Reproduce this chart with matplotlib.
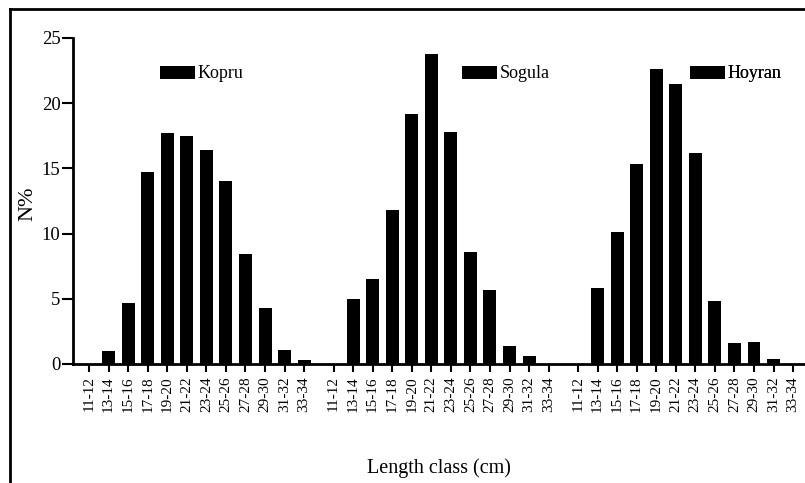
import numpy as np
import matplotlib
matplotlib.use("Agg")
import matplotlib.pyplot as plt
from matplotlib.lines import Line2D

plt.rcParams['font.family'] = ['Liberation Serif', 'DejaVu Serif']

classes = ['11-12', '13-14', '15-16', '17-18', '19-20', '21-22',
           '23-24', '25-26', '27-28', '29-30', '31-32', '33-34']
kopru = [0, 1.0, 4.65, 14.75, 17.75, 17.45, 16.4, 14.0, 8.45, 4.3, 1.05, 0.3]
sogula = [0, 4.95, 6.55, 11.8, 19.2, 23.75, 17.8, 8.55, 5.7, 1.35, 0.6, 0]
hoyran = [0, 5.85, 10.1, 15.3, 22.65, 21.45, 16.15, 4.85, 1.6, 1.7, 0.4, 0]
sites = ['Kopru', 'Sogula', 'Hoyran']
group_offset = 12.5

fig = plt.figure(figsize=(8.05, 4.83), dpi=100)
ax = fig.add_axes([0.0907, 0.2464, 0.9093, 0.675])

idx = np.arange(len(classes))
bars = []
for g, vals in enumerate([kopru, sogula, hoyran]):
    b = ax.bar(idx + g * group_offset, vals, width=0.66, color='black')
    bars.append(b)

xt = np.concatenate([idx + g * group_offset for g in range(3)])
ax.set_xticks(xt)
ax.set_xticklabels(classes * 3, rotation=90, fontsize=11)
ax.set_xlim(-0.82, 36.61)
ax.set_ylim(0, 25)
ax.set_yticks(np.arange(0, 26, 5))
ax.tick_params(axis='y', labelsize=13.5, length=8, width=1.5, direction='out', pad=1)
ax.tick_params(axis='x', length=6, width=1.5, direction='out', pad=3)

for s in ['top', 'right']:
    ax.spines[s].set_visible(False)
for s in ['left', 'bottom']:
    ax.spines[s].set_linewidth(2)

ax.set_ylabel('N%', fontsize=16)
ax.yaxis.set_label_coords(-0.049, 0.49)
ax.set_xlabel('Length class (cm)', fontsize=14.5)
ax.xaxis.set_label_coords(0.5, -0.29)

# one legend per site
leg_x = [160, 462, 690]
for name, b, lx in zip(sites, bars, leg_x):
    leg = ax.legend([b], [name], loc='center left',
                    bbox_to_anchor=(lx / 805, 1 - 74 / 483),
                    bbox_transform=fig.transFigure, frameon=False,
                    fontsize=13, borderpad=0, borderaxespad=0,
                    handlelength=1.95, handleheight=0.7, handletextpad=0.15)
    ax.add_artist(leg)

# outer frame
fig.add_artist(Line2D([9.5 / 805, 9.5 / 805], [0, 1 - 8.5 / 483],
                      transform=fig.transFigure, color='black', lw=2))
fig.add_artist(Line2D([9.5 / 805, 1], [1 - 8.5 / 483, 1 - 8.5 / 483],
                      transform=fig.transFigure, color='black', lw=2))

fig.savefig('out.png', dpi=100)
